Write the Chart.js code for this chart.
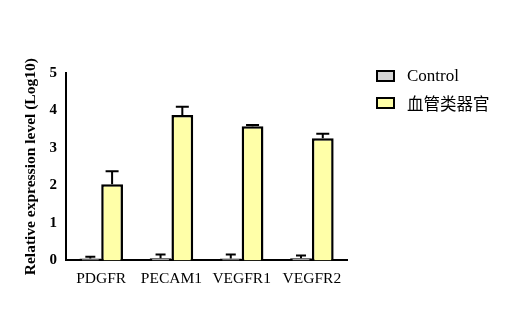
<!DOCTYPE html>
<html lang="zh">
<head>
  <meta charset="UTF-8">
  <title>Relative expression</title>
  <script src="https://cdn.jsdelivr.net/npm/chart.js"></script>
  <style>
    * { margin:0; padding:0; box-sizing:border-box; }
    html,body { width:530px; height:330px; overflow:hidden; background:#fff; }
    #wrap { position:relative; width:530px; height:330px; }
    #legend { position:absolute; left:376px; top:62px; color:#000; }
    #legend div { display:flex; align-items:center; height:27px; }
    #legend span.box { display:inline-block; width:19px; height:12px; border:2.5px solid #000; margin-right:12px; }
    #legend .lat { font-family:"Liberation Serif","DejaVu Serif",serif; font-size:17px; }
    #legend .cjk { font-family:"Noto Sans CJK SC",sans-serif; font-size:16.5px; }
  </style>
</head>
<body>
  <div id="wrap">
    <canvas id="chart" width="530" height="330"></canvas>
    <div id="legend">
      <div><span class="box" style="background:#d6d6d6"></span><span class="lat">Control</span></div>
      <div><span class="box" style="background:#ffffa8"></span><span class="cjk">血管类器官</span></div>
    </div>
  </div>

  <script>
    const genes = ["PDGFR", "PECAM1", "VEGFR1", "VEGFR2"];
    const controlVals = [0.05, 0.06, 0.05, 0.06];
    const controlErr  = [0.05, 0.10, 0.11, 0.07];
    const organoidVals = [2.03, 3.88, 3.58, 3.26];
    const organoidErr  = [0.35, 0.22, 0.03, 0.12];
    const yTicks = [0, 1, 2, 3, 4, 5];

    // whiskers above each bar, drawn through the y scale
    const errorBars = {
      id: 'errorBars',
      afterDatasetsDraw(chart) {
        const ctx = chart.ctx, y = chart.scales.y;
        chart.data.datasets.forEach((ds, i) => {
          const meta = chart.getDatasetMeta(i);
          meta.data.forEach((bar, j) => {
            const top = y.getPixelForValue(ds.data[j] + ds.err[j]);
            const base = y.getPixelForValue(ds.data[j]);
            const cap = ds.cap;
            ctx.save();
            ctx.strokeStyle = '#000';
            ctx.lineWidth = 2;
            ctx.beginPath();
            ctx.moveTo(bar.x, base);
            ctx.lineTo(bar.x, top);
            ctx.moveTo(bar.x - cap / 2, top);
            ctx.lineTo(bar.x + cap / 2, top);
            ctx.stroke();
            ctx.restore();
          });
        });
      }
    };

    new Chart(document.getElementById('chart'), {
      type: 'bar',
      data: {
        labels: genes,
        datasets: [
          { label: 'Control', data: controlVals, err: controlErr, cap: 10,
            backgroundColor: '#d6d6d6', borderColor: '#000', borderWidth: 2.5 },
          { label: '血管类器官', data: organoidVals, err: organoidErr, cap: 13,
            backgroundColor: '#ffffa8', borderColor: '#000', borderWidth: 2.5 }
        ]
      },
      options: {
        responsive: false,
        animation: false,
        layout: { padding: { top: 73, right: 183, bottom: 33, left: 16 } },
        plugins: { legend: { display: false }, tooltip: { enabled: false } },
        datasets: { bar: { barPercentage: 1, categoryPercentage: 0.62 } },
        scales: {
          x: {
            grid: { display: false, drawTicks: false },
            border: { color: '#000', width: 2 },
            ticks: { color: '#000', padding: 9, font: { family: 'Liberation Serif', size: 15.5 } }
          },
          y: {
            min: 0, max: 5,
            afterBuildTicks(scale) { scale.ticks = yTicks.map(v => ({ value: v })); },
            grid: { display: false, drawTicks: true, tickLength: 6, tickColor: '#000', tickWidth: 2 },
            border: { color: '#000', width: 2 },
            ticks: { color: '#000', padding: 3, font: { family: 'Liberation Serif', size: 15, weight: 'bold' } },
            title: { display: true, text: 'Relative expression level (Log10)', color: '#000', padding: 6,
                     font: { family: 'Liberation Serif', size: 15.5, weight: 'bold' } }
          }
        }
      },
      plugins: [errorBars]
    });
  </script>
</body>
</html>
